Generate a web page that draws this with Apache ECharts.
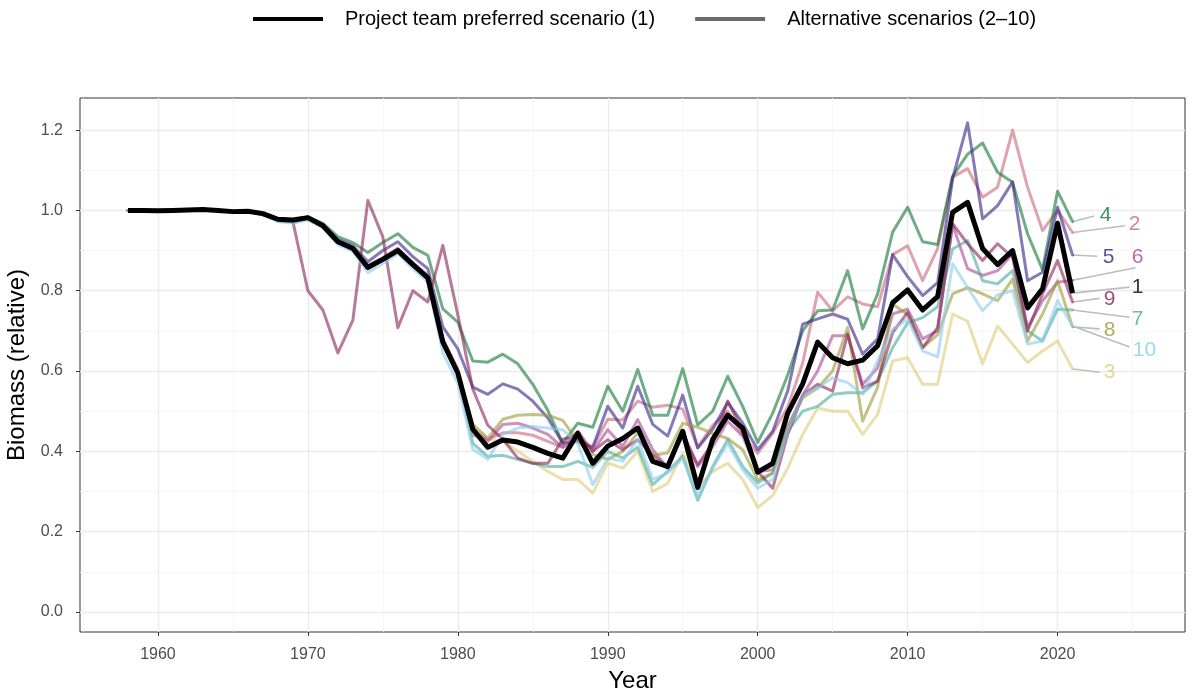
<!DOCTYPE html>
<html>
<head>
<meta charset="utf-8">
<title>Biomass scenarios</title>
<script src="https://cdn.jsdelivr.net/npm/echarts@6/dist/echarts.min.js"></script>
<style>
  html, body { margin: 0; padding: 0; background: #ffffff; }
  #chart { width: 1202px; height: 692px; }
</style>
</head>
<body>
<div id="chart"></div>
<script>
// Years of the assessment period
const years = [
  1958, 1959, 1960, 1961, 1962, 1963, 1964, 1965, 1966, 1967, 1968, 1969, 1970,
  1971, 1972, 1973, 1974, 1975, 1976, 1977, 1978, 1979, 1980,
  1981, 1982, 1983, 1984, 1985, 1986, 1987, 1988, 1989, 1990,
  1991, 1992, 1993, 1994, 1995, 1996, 1997, 1998, 1999, 2000,
  2001, 2002, 2003, 2004, 2005, 2006, 2007, 2008, 2009, 2010,
  2011, 2012, 2013, 2014, 2015, 2016, 2017, 2018, 2019, 2020, 2021
];

// Relative biomass per scenario (one value per year)
const scenario1 = [
  1.000, 1.000, 0.999, 1.000, 1.001, 1.002, 1.000, 0.997, 0.998, 0.992, 0.978, 0.976, 0.982,
  0.962, 0.922, 0.905, 0.858, 0.878, 0.900, 0.865, 0.832, 0.672, 0.595,
  0.455, 0.410, 0.428, 0.423, 0.410, 0.395, 0.383, 0.445, 0.370, 0.413,
  0.432, 0.458, 0.375, 0.362, 0.450, 0.310, 0.430, 0.490, 0.458, 0.348,
  0.370, 0.495, 0.568, 0.672, 0.633, 0.618, 0.627, 0.663, 0.770, 0.802,
  0.752, 0.785, 0.995, 1.020, 0.905, 0.865, 0.900, 0.757, 0.805, 0.968, 0.794
];
const scenario2 = [
  1.000, 1.000, 0.999, 1.000, 1.001, 1.002, 1.000, 0.997, 0.998, 0.990, 0.975, 0.972, 0.980,
  0.962, 0.922, 0.905, 0.862, 0.882, 0.905, 0.868, 0.835, 0.680, 0.605,
  0.440, 0.430, 0.446, 0.446, 0.440, 0.425, 0.410, 0.430, 0.410, 0.480,
  0.478, 0.525, 0.510, 0.515, 0.505, 0.410, 0.465, 0.500, 0.440, 0.395,
  0.445, 0.510, 0.620, 0.796, 0.750, 0.785, 0.767, 0.760, 0.890, 0.912,
  0.825, 0.905, 1.083, 1.104, 1.033, 1.058, 1.200, 1.058, 0.950, 1.000, 0.945
];
const scenario3 = [
  1.000, 1.000, 0.999, 1.000, 1.001, 1.002, 1.000, 0.997, 0.998, 0.990, 0.975, 0.972, 0.980,
  0.962, 0.922, 0.905, 0.858, 0.878, 0.900, 0.865, 0.832, 0.672, 0.595,
  0.458, 0.430, 0.425, 0.400, 0.375, 0.350, 0.330, 0.330, 0.296, 0.371,
  0.358, 0.400, 0.300, 0.320, 0.395, 0.310, 0.350, 0.370, 0.330, 0.260,
  0.290, 0.358, 0.442, 0.508, 0.500, 0.500, 0.442, 0.492, 0.625, 0.633,
  0.567, 0.567, 0.742, 0.724, 0.618, 0.712, 0.667, 0.621, 0.650, 0.675, 0.605
];
const scenario4 = [
  1.000, 1.000, 0.999, 1.000, 1.001, 1.002, 1.000, 0.997, 0.998, 0.992, 0.978, 0.976, 0.984,
  0.968, 0.935, 0.920, 0.895, 0.920, 0.942, 0.908, 0.888, 0.755, 0.722,
  0.625, 0.622, 0.642, 0.618, 0.567, 0.502, 0.420, 0.470, 0.460, 0.562,
  0.500, 0.604, 0.490, 0.490, 0.606, 0.466, 0.500, 0.587, 0.512, 0.422,
  0.495, 0.590, 0.700, 0.750, 0.752, 0.850, 0.705, 0.792, 0.946, 1.008,
  0.922, 0.915, 1.085, 1.140, 1.168, 1.095, 1.070, 0.942, 0.852, 1.048, 0.972
];
const scenario5 = [
  1.000, 1.000, 0.999, 1.000, 1.001, 1.002, 1.000, 0.997, 0.998, 0.992, 0.978, 0.976, 0.983,
  0.965, 0.928, 0.912, 0.872, 0.900, 0.922, 0.885, 0.855, 0.710, 0.655,
  0.560, 0.542, 0.568, 0.555, 0.525, 0.483, 0.420, 0.425, 0.410, 0.512,
  0.458, 0.562, 0.467, 0.438, 0.540, 0.408, 0.455, 0.522, 0.470, 0.404,
  0.450, 0.550, 0.717, 0.730, 0.742, 0.729, 0.642, 0.680, 0.890, 0.835,
  0.788, 0.820, 1.079, 1.218, 0.979, 1.012, 1.071, 0.825, 0.846, 1.008, 0.889
];
const scenario6 = [
  1.000, 1.000, 0.999, 1.000, 1.001, 1.002, 1.000, 0.997, 0.998, 0.990, 0.975, 0.972, 0.980,
  0.962, 0.925, 0.908, 0.862, 0.882, 0.905, 0.870, 0.838, 0.680, 0.600,
  0.454, 0.425, 0.467, 0.470, 0.458, 0.442, 0.410, 0.450, 0.400, 0.454,
  0.412, 0.479, 0.404, 0.358, 0.450, 0.362, 0.412, 0.475, 0.438, 0.350,
  0.354, 0.460, 0.540, 0.600, 0.688, 0.688, 0.567, 0.608, 0.742, 0.754,
  0.680, 0.700, 0.965, 0.855, 0.838, 0.850, 0.892, 0.708, 0.775, 0.821, 0.826
];
const scenario7 = [
  1.000, 1.000, 0.999, 1.000, 1.001, 1.002, 1.000, 0.997, 0.998, 0.990, 0.975, 0.972, 0.980,
  0.962, 0.922, 0.905, 0.858, 0.878, 0.900, 0.865, 0.830, 0.670, 0.590,
  0.420, 0.387, 0.390, 0.380, 0.370, 0.362, 0.362, 0.375, 0.360, 0.400,
  0.383, 0.410, 0.317, 0.350, 0.388, 0.278, 0.362, 0.429, 0.362, 0.321,
  0.346, 0.450, 0.500, 0.512, 0.542, 0.546, 0.546, 0.575, 0.658, 0.720,
  0.733, 0.760, 0.904, 0.925, 0.825, 0.817, 0.850, 0.700, 0.675, 0.754, 0.752
];
const scenario8 = [
  1.000, 1.000, 0.999, 1.000, 1.001, 1.002, 1.000, 0.997, 0.998, 0.990, 0.975, 0.972, 0.980,
  0.962, 0.922, 0.905, 0.860, 0.880, 0.902, 0.867, 0.835, 0.675, 0.595,
  0.467, 0.433, 0.480, 0.490, 0.492, 0.490, 0.477, 0.425, 0.392, 0.380,
  0.400, 0.446, 0.390, 0.396, 0.470, 0.460, 0.444, 0.432, 0.404, 0.329,
  0.346, 0.460, 0.533, 0.558, 0.600, 0.708, 0.475, 0.560, 0.767, 0.740,
  0.658, 0.690, 0.792, 0.808, 0.792, 0.775, 0.829, 0.675, 0.742, 0.825, 0.710
];
const scenario9 = [
  1.000, 1.000, 0.999, 1.000, 1.001, 1.002, 1.000, 0.997, 0.998, 0.990, 0.975, 0.972, 0.800,
  0.752, 0.645, 0.727, 1.025, 0.934, 0.708, 0.800, 0.772, 0.913, 0.740,
  0.555, 0.465, 0.430, 0.383, 0.370, 0.370, 0.430, 0.440, 0.400, 0.429,
  0.404, 0.429, 0.390, 0.362, 0.440, 0.367, 0.420, 0.525, 0.450, 0.350,
  0.308, 0.442, 0.540, 0.567, 0.550, 0.692, 0.558, 0.575, 0.696, 0.746,
  0.658, 0.708, 0.967, 0.917, 0.875, 0.917, 0.883, 0.700, 0.792, 0.875, 0.772
];
const scenario10 = [
  1.000, 1.000, 0.999, 1.000, 1.001, 1.002, 1.000, 0.997, 0.998, 0.988, 0.972, 0.968, 0.976,
  0.958, 0.915, 0.898, 0.845, 0.868, 0.892, 0.855, 0.822, 0.645, 0.570,
  0.405, 0.380, 0.442, 0.458, 0.462, 0.458, 0.454, 0.420, 0.317, 0.383,
  0.375, 0.430, 0.330, 0.346, 0.383, 0.290, 0.358, 0.420, 0.354, 0.308,
  0.330, 0.450, 0.540, 0.558, 0.583, 0.571, 0.542, 0.625, 0.704, 0.729,
  0.650, 0.635, 0.867, 0.808, 0.750, 0.790, 0.800, 0.667, 0.675, 0.775, 0.712
];

// Axis tick labels
const yearTicks = [1960, 1970, 1980, 1990, 2000, 2010, 2020];
const yearMinorTicks = [1955, 1965, 1975, 1985, 1995, 2005, 2015, 2025];
const biomassTicks = [0, 0.2, 0.4, 0.6, 0.8, 1.0, 1.2];
const biomassMinorTicks = [0.1, 0.3, 0.5, 0.7, 0.9, 1.1];

const preferredName = 'Project team preferred scenario (1)';
const alternativesName = 'Alternative scenarios (2\u201310)';

// Scenario styling (muted qualitative palette)
const scenarioStyle = [
  { id: '2',  values: scenario2,  color: '#CC6677' },
  { id: '3',  values: scenario3,  color: '#DDCC77' },
  { id: '4',  values: scenario4,  color: '#117733' },
  { id: '5',  values: scenario5,  color: '#332288' },
  { id: '6',  values: scenario6,  color: '#AA4499' },
  { id: '7',  values: scenario7,  color: '#44AA99' },
  { id: '8',  values: scenario8,  color: '#999933' },
  { id: '9',  values: scenario9,  color: '#882255' },
  { id: '10', values: scenario10, color: '#88CCEE' }
];

// End-of-series labels, repelled to the right: label centre and leader end (data units)
const endLabelLayout = {
  '4':  { at: [2023.2, 0.988],  tip: [2022.45, 0.986] },
  '2':  { at: [2025.13, 0.966], tip: [2024.5, 0.962] },
  '5':  { at: [2023.4, 0.884],  tip: [2022.65, 0.886] },
  '6':  { at: [2025.33, 0.884], tip: [2025.2, 0.857] },
  '1':  { at: [2025.33, 0.809], tip: [2024.8, 0.809] },
  '9':  { at: [2023.47, 0.779], tip: [2022.8, 0.781] },
  '7':  { at: [2025.33, 0.729], tip: [2024.8, 0.734] },
  '8':  { at: [2023.47, 0.702], tip: [2022.8, 0.705] },
  '10': { at: [2025.8, 0.652],  tip: [2024.8, 0.660] },
  '3':  { at: [2023.47, 0.597], tip: [2022.8, 0.597] }
};

const FONT = 'Liberation Sans, Arial, Helvetica, sans-serif';

function pairs(values) {
  return years.map((y, i) => [y, values[i]]);
}

const series = [];

scenarioStyle.forEach(s => {
  series.push({
    name: 'Scenario ' + s.id,
    type: 'line',
    data: pairs(s.values),
    symbol: 'none',
    color: s.color,
    lineStyle: { color: s.color, width: 3, opacity: 0.6, join: 'round', cap: 'round' },
    z: 2,
    silent: true
  });
});

series.push({
  name: preferredName,
  type: 'line',
  data: pairs(scenario1),
  symbol: 'none',
  color: '#000000',
  lineStyle: { color: '#000000', width: 5, join: 'round', cap: 'butt' },
  z: 4,
  silent: true
});

// Legend entry for the alternative scenarios as a group
series.push({
  name: alternativesName,
  type: 'line',
  data: [],
  symbol: 'none',
  color: '#6b6b6b',
  lineStyle: { color: '#6b6b6b', width: 3 }
});

// Leader lines and numbered end labels
const allEnds = [{ id: '1', values: scenario1, color: '#000000' }].concat(scenarioStyle);
series.push({
  name: 'leaders',
  type: 'lines',
  coordinateSystem: 'cartesian2d',
  polyline: false,
  silent: true,
  z: 1,
  lineStyle: { color: '#bdbdbd', width: 1.6, opacity: 1 },
  data: allEnds.map(s => ({
    coords: [[years[years.length - 1], s.values[s.values.length - 1]], endLabelLayout[s.id].tip]
  }))
});
series.push({
  name: 'endLabels',
  type: 'scatter',
  symbolSize: 0,
  silent: true,
  z: 5,
  data: allEnds.map(s => ({
    value: endLabelLayout[s.id].at,
    label: {
      show: true,
      position: 'inside',
      formatter: s.id,
      color: s.color,
      fontSize: 21,
      fontFamily: FONT
    }
  }))
});

const chart = echarts.init(document.getElementById('chart'), null, { renderer: 'canvas' });

chart.setOption({
  animation: false,
  backgroundColor: '#ffffff',
  textStyle: { fontFamily: FONT },
  legend: {
    data: [preferredName, alternativesName],
    left: 248,
    top: 4,
    icon: 'rect',
    itemWidth: 70,
    itemHeight: 4,
    itemGap: 40,
    selectedMode: false,
    textStyle: { fontSize: 20, color: '#000000', fontFamily: FONT, padding: [0, 0, 0, 17] }
  },
  grid: {
    left: 80,
    top: 98,
    width: 1105,
    height: 534,
    outerBoundsMode: 'none',
    containLabel: false,
    show: true,
    borderColor: '#333333',
    borderWidth: 1,
    backgroundColor: '#ffffff'
  },
  xAxis: [
    {
      type: 'value',
      min: 1954.8,
      max: 2028.5,
      name: 'Year',
      nameLocation: 'middle',
      nameGap: 37,
      nameTextStyle: { fontSize: 24, color: '#000000', fontFamily: FONT },
      axisLine: { show: false, onZero: false },
      axisTick: { show: true, length: 4, lineStyle: { color: '#333333', width: 1 }, customValues: yearTicks },
      axisLabel: {
        color: '#4d4d4d', fontSize: 16, margin: 15, fontFamily: FONT,
        customValues: yearTicks,
        formatter: v => String(Math.round(v))
      },
      splitLine: { show: true, lineStyle: { color: '#ebebeb', width: 1.4 } }
    },
    {
      type: 'value',
      min: 1954.8,
      max: 2028.5,
      axisLine: { show: false, onZero: false },
      axisTick: { show: false, customValues: yearMinorTicks },
      axisLabel: { show: false, customValues: yearMinorTicks },
      splitLine: { show: true, lineStyle: { color: '#f2f2f2', width: 0.8 } }
    }
  ],
  yAxis: [
    {
      type: 'value',
      min: -0.05,
      max: 1.28,
      name: 'Biomass (relative)',
      nameLocation: 'middle',
      nameGap: 38,
      nameRotate: 90,
      nameTextStyle: { fontSize: 24, color: '#000000', fontFamily: FONT },
      axisLine: { show: false, onZero: false },
      axisTick: { show: true, length: 4, lineStyle: { color: '#333333', width: 1 }, customValues: biomassTicks },
      axisLabel: {
        color: '#4d4d4d', fontSize: 16, margin: 17, fontFamily: FONT,
        customValues: biomassTicks,
        formatter: v => Number(v).toFixed(1)
      },
      splitLine: { show: true, lineStyle: { color: '#ebebeb', width: 1.4 } }
    },
    {
      type: 'value',
      min: -0.05,
      max: 1.28,
      axisLine: { show: false, onZero: false },
      axisTick: { show: false, customValues: biomassMinorTicks },
      axisLabel: { show: false, customValues: biomassMinorTicks },
      splitLine: { show: true, lineStyle: { color: '#f2f2f2', width: 0.8 } }
    }
  ],
  series: series
});
</script>
</body>
</html>
